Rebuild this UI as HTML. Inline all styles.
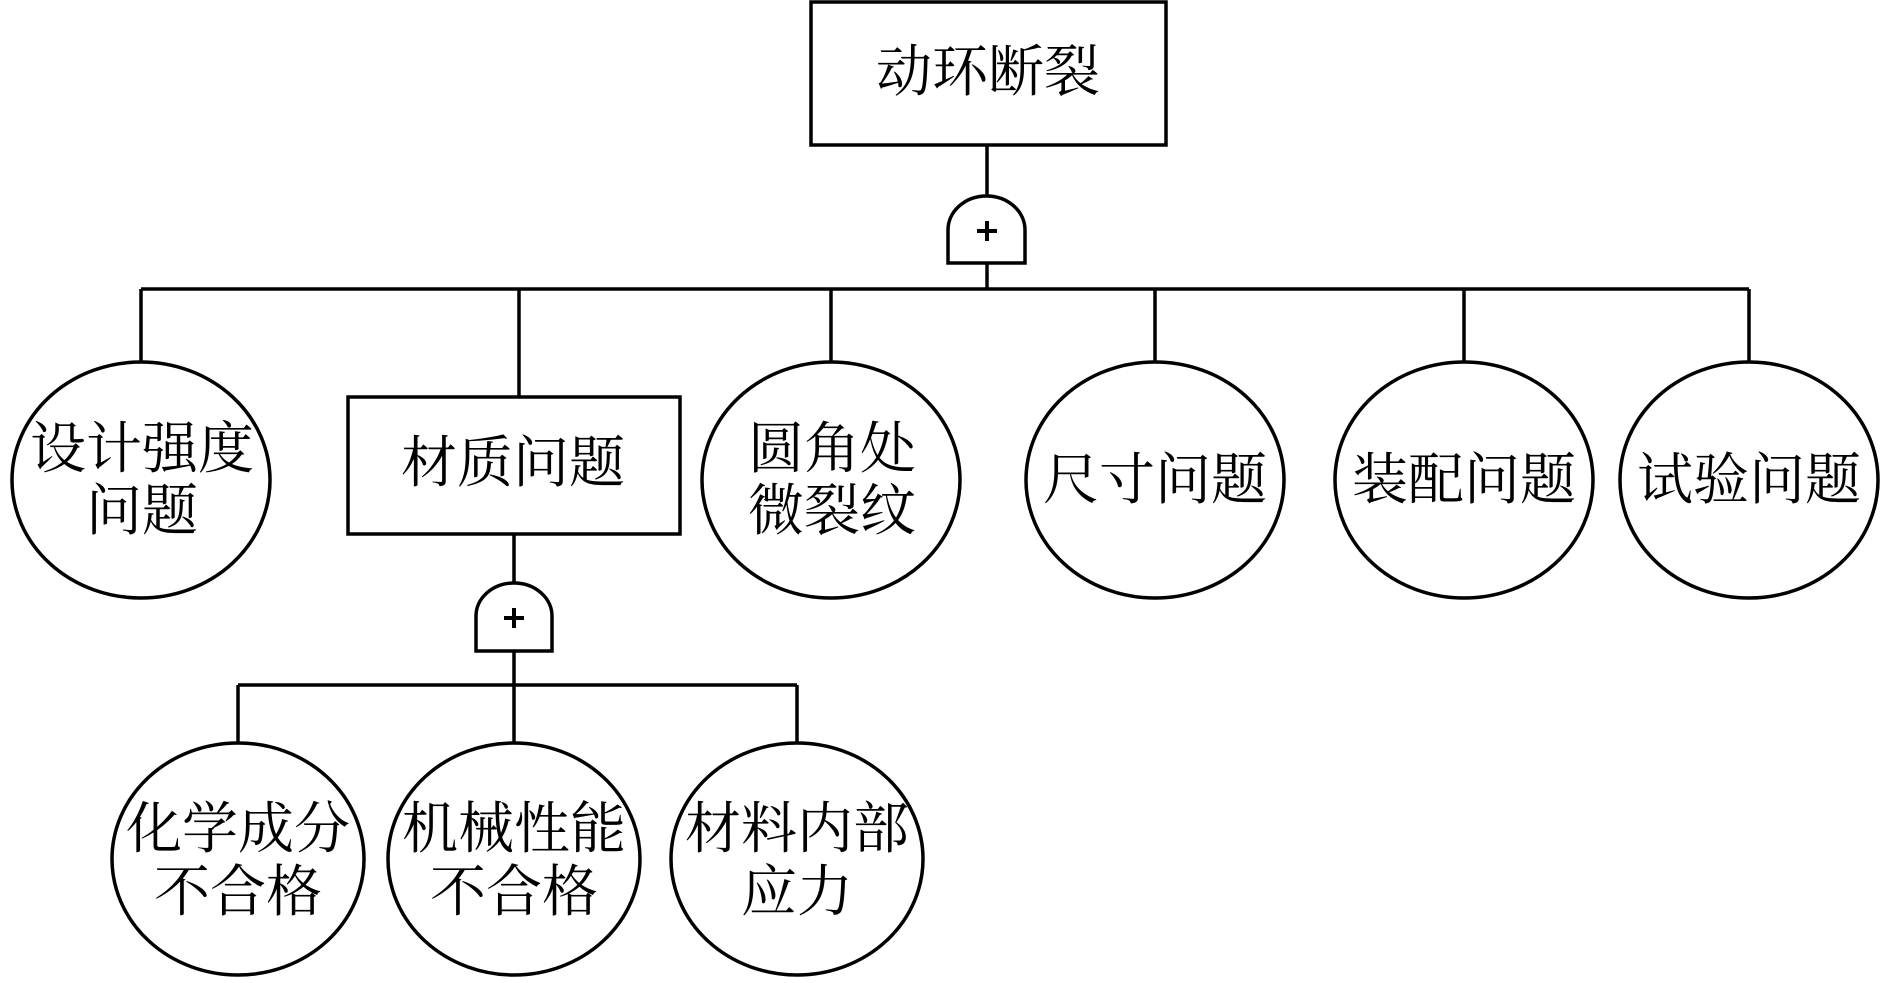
<!DOCTYPE html>
<html><head><meta charset="utf-8"><style>
html,body{margin:0;padding:0;background:#fff;}
svg text{font-family:"Liberation Serif","Noto Serif CJK SC","Noto Sans CJK SC",serif;font-size:56px;fill:#000;text-anchor:middle;dominant-baseline:central;}
</style></head><body>
<svg width="1890" height="978" viewBox="0 0 1890 978" xmlns="http://www.w3.org/2000/svg">
<g fill="none" stroke="#000" stroke-width="3.5">
<rect x="811" y="2" width="355" height="143" fill="#fff"/>
<line x1="987" y1="145" x2="987" y2="196"/>
<path d="M948,263 L948,230 A38.5,34 0 0 1 1025,230 L1025,263 Z" fill="#fff"/>
<line x1="987" y1="263" x2="987" y2="289"/>
<line x1="141" y1="289" x2="1749" y2="289"/>
<line x1="141" y1="289" x2="141" y2="362"/>
<line x1="519" y1="289" x2="519" y2="397"/>
<line x1="831" y1="289" x2="831" y2="362"/>
<line x1="1155" y1="289" x2="1155" y2="362"/>
<line x1="1464" y1="289" x2="1464" y2="362"/>
<line x1="1749" y1="289" x2="1749" y2="362"/>
<ellipse cx="141" cy="480" rx="129" ry="118" fill="#fff"/>
<rect x="348" y="397" width="332" height="137" fill="#fff"/>
<ellipse cx="831" cy="480" rx="129" ry="118" fill="#fff"/>
<ellipse cx="1155" cy="480" rx="129" ry="118" fill="#fff"/>
<ellipse cx="1464" cy="480" rx="129" ry="118" fill="#fff"/>
<ellipse cx="1749" cy="480" rx="129" ry="118" fill="#fff"/>
<line x1="514" y1="534" x2="514" y2="583"/>
<path d="M476,651 L476,616 A38,33 0 0 1 552,616 L552,651 Z" fill="#fff"/>
<line x1="514" y1="651" x2="514" y2="685"/>
<line x1="238" y1="685" x2="797" y2="685"/>
<line x1="238" y1="685" x2="238" y2="742"/>
<line x1="514" y1="685" x2="514" y2="742"/>
<line x1="797" y1="685" x2="797" y2="742"/>
<ellipse cx="238" cy="859" rx="126" ry="116" fill="#fff"/>
<ellipse cx="514" cy="859" rx="126" ry="116" fill="#fff"/>
<ellipse cx="797" cy="859" rx="126" ry="116" fill="#fff"/>
</g>
<g stroke="#000" stroke-width="4">
<line x1="977" y1="231" x2="997" y2="231"/><line x1="987" y1="221" x2="987" y2="241"/>
<line x1="504" y1="618" x2="524" y2="618"/><line x1="514" y1="608" x2="514" y2="628"/>
</g>
<text x="988" y="73">动环断裂</text>
<text x="142" y="450">设计强度</text><text x="142" y="512">问题</text>
<text x="513" y="464">材质问题</text>
<text x="832" y="450">圆角处</text><text x="832" y="512">微裂纹</text>
<text x="1155" y="481">尺寸问题</text>
<text x="1464" y="481">装配问题</text>
<text x="1749" y="481">试验问题</text>
<text x="238" y="830">化学成分</text><text x="238" y="893">不合格</text>
<text x="514" y="830">机械性能</text><text x="514" y="893">不合格</text>
<text x="797" y="830">材料内部</text><text x="797" y="893">应力</text>
</svg>
</body></html>
